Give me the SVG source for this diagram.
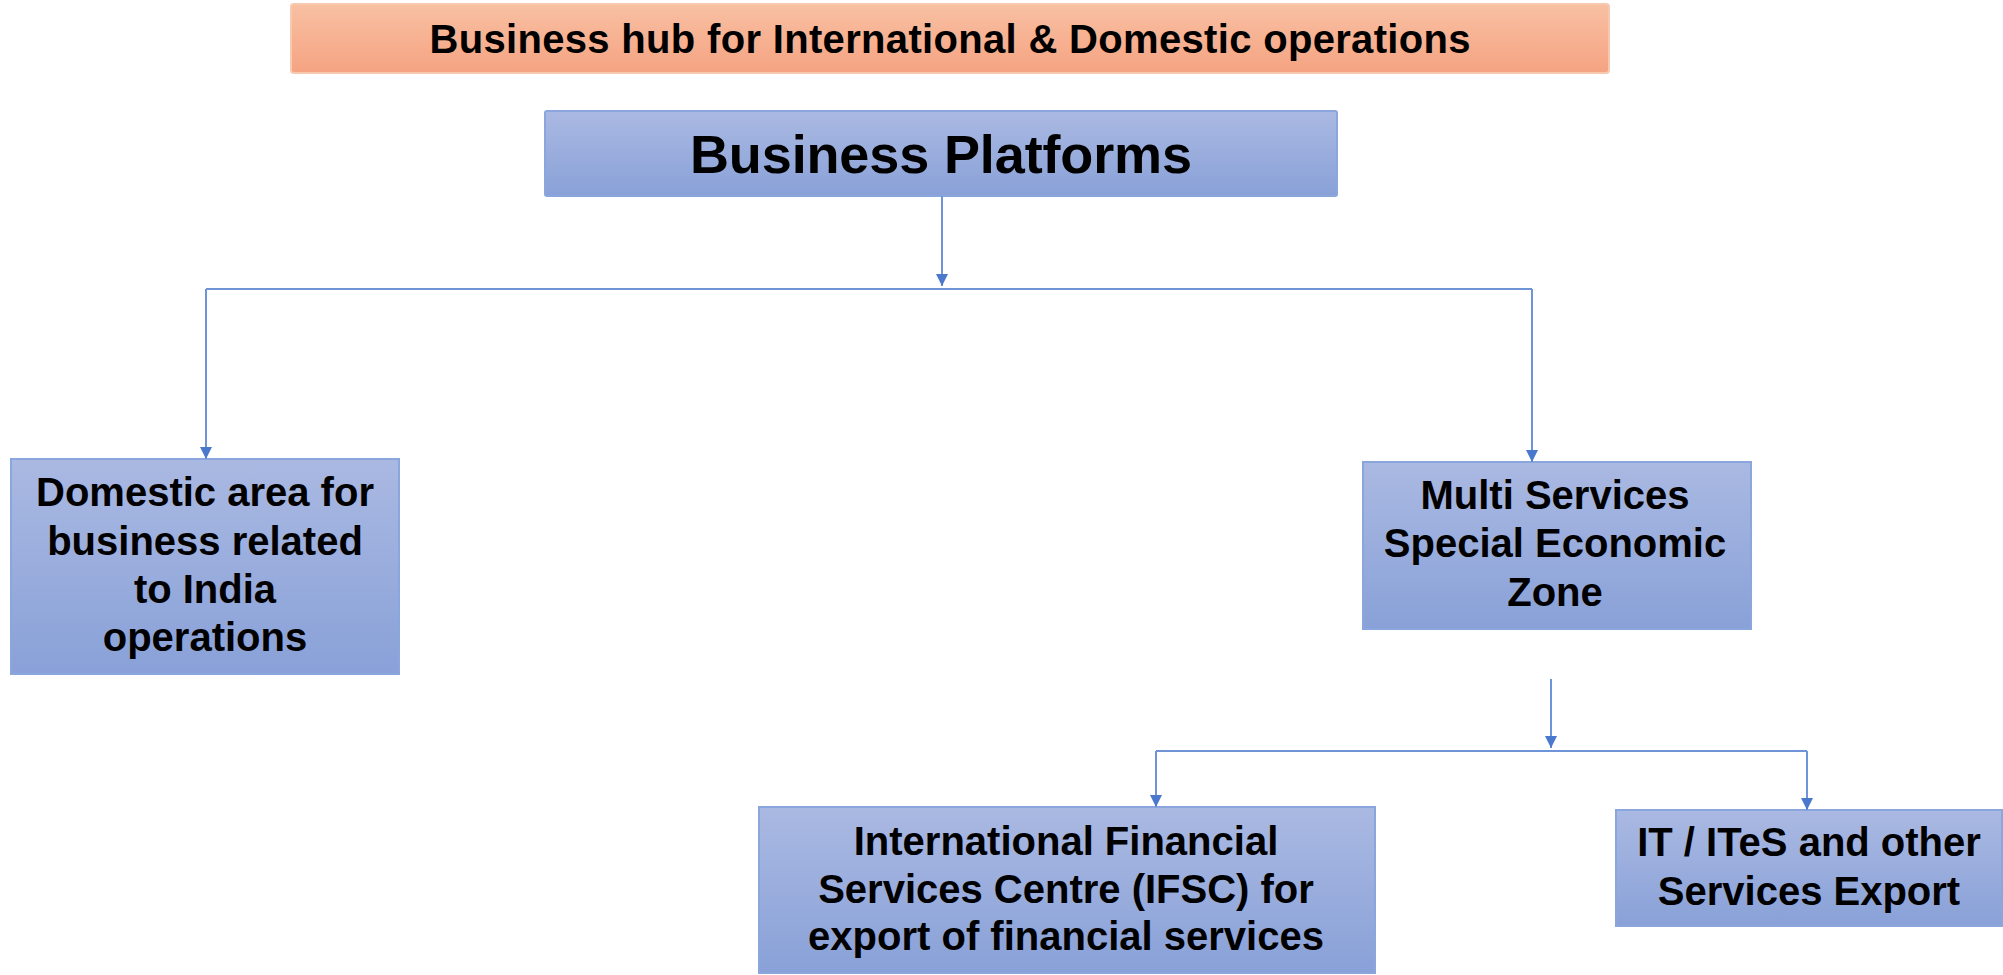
<svg xmlns="http://www.w3.org/2000/svg" width="2003" height="975" viewBox="0 0 2003 975">
<defs>
<linearGradient id="gBlue" x1="0" y1="0" x2="0" y2="1">
<stop offset="0" stop-color="#aab9e2"/>
<stop offset="1" stop-color="#89a1d8"/>
</linearGradient>
<linearGradient id="gOrange" x1="0" y1="0" x2="0" y2="1">
<stop offset="0" stop-color="#f8c0a3"/>
<stop offset="1" stop-color="#f5a381"/>
</linearGradient>
<marker id="arr" viewBox="0 0 10 10" refX="10" refY="5" markerWidth="12" markerHeight="12" markerUnits="userSpaceOnUse" orient="auto">
<path d="M0,0 L10,5 L0,10 Z" fill="#4a78cc"/>
</marker>
<style>
.box{fill:url(#gBlue);stroke:#8ba6dc;stroke-width:2}
.bar{fill:url(#gOrange);stroke:#f7c9b0;stroke-width:2}
.t{font-family:"Liberation Sans",Arial,sans-serif;font-weight:bold;fill:#000;text-anchor:middle;font-size:40px}
.big{font-size:54px}
.c{fill:none;stroke:#6f95d8;stroke-width:2}
.ca{fill:none;stroke:#6f95d8;stroke-width:2;marker-end:url(#arr)}
</style>
</defs>
<rect width="2003" height="975" fill="#ffffff"/>
<g id="hub">
<rect class="bar" x="291" y="4" width="1318" height="69" rx="3"/>
<text class="t" x="950" y="53" textLength="1041">Business hub for International &amp; Domestic operations</text>
</g>
<g id="platforms">
<rect class="box" x="545" y="111" width="792" height="85" rx="2"/>
<text class="t big" x="941" y="173" textLength="502">Business Platforms</text>
</g>
<g id="domestic">
<rect class="box" x="11" y="459" width="388" height="215"/>
<text class="t" x="205" y="506">Domestic area for</text>
<text class="t" x="205" y="555">business related</text>
<text class="t" x="205" y="603">to India</text>
<text class="t" x="205" y="651">operations</text>
</g>
<g id="multi">
<rect class="box" x="1363" y="462" width="388" height="167"/>
<text class="t" x="1555" y="509">Multi Services</text>
<text class="t" x="1555" y="557">Special Economic</text>
<text class="t" x="1555" y="606">Zone</text>
</g>
<g id="ifsc">
<rect class="box" x="759" y="807" width="616" height="166"/>
<text class="t" x="1066" y="855">International Financial</text>
<text class="t" x="1066" y="903">Services Centre (IFSC) for</text>
<text class="t" x="1066" y="950">export of financial services</text>
</g>
<g id="ites">
<rect class="box" x="1616" y="810" width="386" height="116"/>
<text class="t" x="1809" y="856">IT / ITeS and other</text>
<text class="t" x="1809" y="905">Services Export</text>
</g>
<g id="connectors">
<path class="ca" d="M942,196 V286"/>
<path class="ca" d="M206,289 V459"/>
<path class="c" d="M206,289 H1532"/>
<path class="ca" d="M1532,289 V462"/>
<path class="ca" d="M1551,679 V748"/>
<path class="c" d="M1156,751 H1807"/>
<path class="ca" d="M1156,751 V807"/>
<path class="ca" d="M1807,751 V810"/>
</g>
</svg>
